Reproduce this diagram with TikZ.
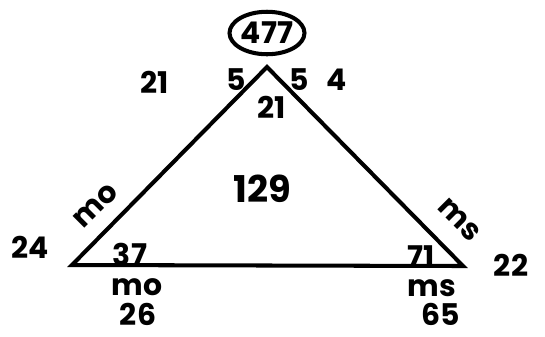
\documentclass[tikz,border=0pt]{standalone}
\usepackage{fontspec}
\setmainfont{Poppins}
\usetikzlibrary{positioning, shapes.geometric}
\tikzset{
	num/.style={font=\fontsize{17}{19}\selectfont\bfseries, inner sep=1pt},
	side/.style={line width=2.3pt, line join=miter}
}
\begin{document}
\begin{tikzpicture}[x=0.02cm, y=-0.02cm]
		\useasboundingbox (0,0) rectangle (545,336);
		\coordinate (L) at (72,265);
		\coordinate (T) at (267,67);
		\coordinate (R) at (463,266);
		\draw[side] (L) -- (T) -- (R) -- cycle;
		\node[num, draw, line width=2.3pt, ellipse, minimum width=1.5cm, minimum height=0.85cm, inner sep=0pt] (top) at (267,33) {477};
		\node[num] (outTL) at (155,82) {21};
		\node[num] (sL) at (236,80) {5};
		\node[num] (sR) at (299,80) {5};
		\node[num] (outTR) at (337,80) {4};
		\node[num] (angT) at (272,107) {21};
		\node[num, font=\fontsize{21}{23}\selectfont\bfseries] (mid) at (262,189) {129};
		\node[num, rotate=45] (moL) at (96,206) {mo};
		\node[num] (angL) at (130,254) {37};
		\node[num] (outL) at (30,247) {24};
		\node[num] (moB) at (137,287) {mo};
		\node[num] (outBL) at (138,314) {26};
		\node[num, rotate=-45] (msR) at (459,220) {ms};
		\node[num] (angR) at (421,257) {71};
		\node[num] (outR) at (511,265) {22};
		\node[num] (msB) at (432,288) {ms};
		\node[num] (outBR) at (441,314) {65};
	\end{tikzpicture}
\end{document}
